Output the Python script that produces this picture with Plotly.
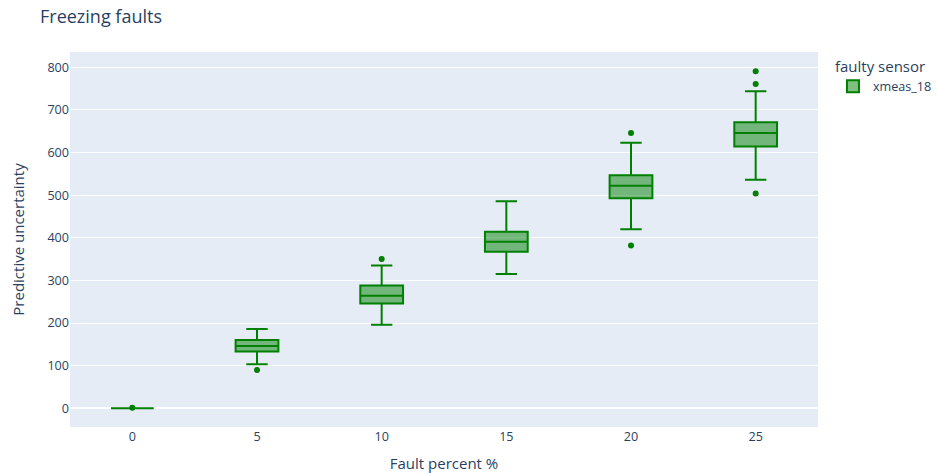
import plotly.graph_objects as go

categories = ["0", "5", "10", "15", "20", "25"]
q1 = [0, 133, 246, 367, 493, 614]
median = [0, 146, 264, 391, 522, 646]
q3 = [0, 160, 288, 414, 547, 671]
lowerfence = [0, 103, 196, 315, 420, 536]
upperfence = [0, 186, 335, 486, 623, 744]

outlier_x = ["0", "5", "10", "20", "20", "25", "25", "25"]
outlier_y = [1, 90, 350, 646, 382, 791, 761, 504]

color = "green"

fig = go.Figure()
fig.add_trace(go.Box(
    name="xmeas_18",
    x=categories,
    q1=q1, median=median, q3=q3,
    lowerfence=lowerfence, upperfence=upperfence,
    boxpoints=False,
    marker_color=color,
    line=dict(color=color, width=2),
    legendgroup="xmeas_18",
    showlegend=True,
))
fig.add_trace(go.Scatter(
    x=outlier_x, y=outlier_y,
    mode="markers",
    marker=dict(color=color, size=6),
    legendgroup="xmeas_18",
    showlegend=False,
    hoverinfo="y",
))

W, H = 937, 473
fig.update_layout(
    template="plotly",
    width=W, height=H,
    margin=dict(l=70, r=119, t=52, b=46, autoexpand=False),
    title=dict(text="Freezing faults", x=40/W, xref="container", xanchor="left",
               y=1-17/H, yref="container", yanchor="middle", font=dict(size=18)),
    legend=dict(title=dict(text="faulty sensor"), tracegroupgap=0),
    boxgap=0.51,
    xaxis=dict(title=dict(text="Fault percent %"), type="category",
               categoryorder="array", categoryarray=categories, automargin=False),
    yaxis=dict(title=dict(text="Predictive uncertainty", standoff=19),
               range=[-44, 836], automargin=False),
    font=dict(family="Open Sans, Arial, sans-serif", size=12.6),
)

fig.write_html(
    "out.html",
    config={"displayModeBar": False},
    post_script="document.body.style.margin='0';document.body.style.overflow='hidden';",
)
